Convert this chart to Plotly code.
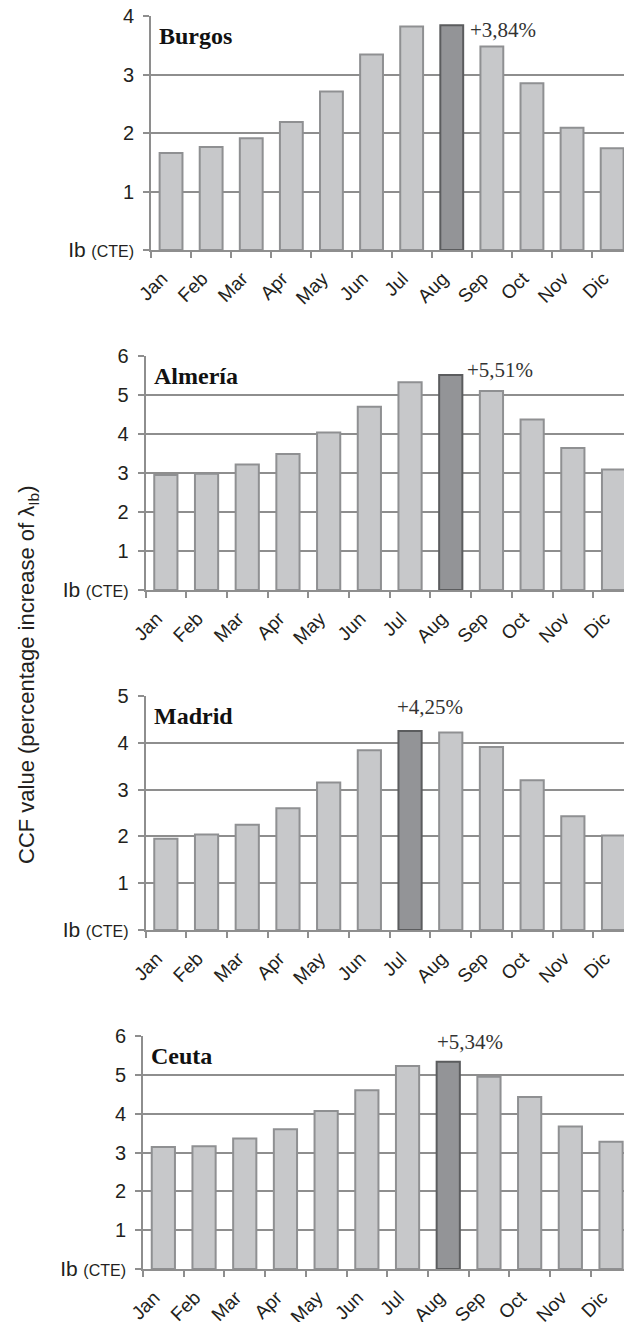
import plotly.graph_objects as go

months = ["Jan", "Feb", "Mar", "Apr", "May", "Jun", "Jul", "Aug", "Sep", "Oct", "Nov", "Dic"]

burgos = [1.66, 1.76, 1.91, 2.19, 2.71, 3.34, 3.82, 3.84, 3.48, 2.85, 2.09, 1.74]
almeria = [2.95, 2.98, 3.22, 3.49, 4.04, 4.70, 5.33, 5.51, 5.10, 4.37, 3.64, 3.09]
madrid = [1.95, 2.04, 2.25, 2.60, 3.15, 3.84, 4.25, 4.22, 3.91, 3.20, 2.43, 2.02]
ceuta = [3.14, 3.16, 3.36, 3.60, 4.07, 4.60, 5.23, 5.34, 4.95, 4.43, 3.67, 3.28]

cities = ["Burgos", "Almería", "Madrid", "Ceuta"]
series = [burgos, almeria, madrid, ceuta]
peak_labels = ["+3,84%", "+5,51%", "+4,25%", "+5,34%"]
y_max = [4, 6, 5, 6]

W, H = 624, 1322
# pixel geometry: (top, bottom, left boundary of first category, category width)
geom = [(16, 250, 151, 40.1), (356, 590, 145.5, 40.7), (696, 930, 145.5, 40.7), (1036, 1269, 143, 40.7)]
# peak label placement: (xanchor, yanchor, xshift, yshift)
label_pos = [("left", "middle", 16, -5), ("left", "middle", 14, 5),
             ("left", "bottom", -15, 10), ("left", "bottom", -13, 6)]

LIGHT_FILL, LIGHT_LINE = "#c7c8ca", "#8f9092"
DARK_FILL, DARK_LINE = "#939497", "#5b5c5e"
GRID = "#8e8e8e"
TXT = "#231f20"

fig = go.Figure()
annotations = []
layout_axes = {}

for i, (city, vals, lab, ym, (top, bot, left, cw), lp) in enumerate(
        zip(cities, series, peak_labels, y_max, geom, label_pos)):
    n = "" if i == 0 else str(i + 1)
    peak = max(range(len(vals)), key=lambda k: vals[k])
    fills = [DARK_FILL if k == peak else LIGHT_FILL for k in range(len(vals))]
    lines = [DARK_LINE if k == peak else LIGHT_LINE for k in range(len(vals))]
    fig.add_trace(go.Bar(
        x=months, y=vals, xaxis="x" + n, yaxis="y" + n,
        marker=dict(color=fills, line=dict(color=lines, width=2)),
        width=0.57, showlegend=False, hoverinfo="x+y",
    ))
    xr = [-0.5, -0.5 + (W - left) / cw]
    layout_axes["xaxis" + n] = dict(
        domain=[left / W, 1], anchor="y" + n, type="category",
        categoryorder="array", categoryarray=months, automargin=False,
        range=xr, tickson="boundaries", ticks="outside", ticklen=6, tickwidth=2,
        tickcolor=GRID, showline=True, linecolor=GRID, linewidth=2,
        showgrid=False, tickangle=-45, zeroline=False,
        ticklabelstandoff=8, ticklabelshift=-9,
        tickfont=dict(family="Liberation Sans, Arial", size=19, color=TXT),
    )
    tv = list(range(0, ym + 1))
    tt = ["<span style='font-size:21px'>Ib</span> <span style='font-size:16px'>(CTE)</span>"] + [str(v) for v in tv[1:]]
    layout_axes["yaxis" + n] = dict(
        domain=[1 - bot / H, 1 - top / H], anchor="x" + n, range=[0, ym], automargin=False,
        tickvals=tv, ticktext=tt, ticks="outside", ticklen=6, tickwidth=2, tickcolor=GRID,
        showline=True, linecolor=GRID, linewidth=2, showgrid=True, gridcolor=GRID, gridwidth=2,
        zeroline=False, ticklabelstandoff=5,
        tickfont=dict(family="Liberation Sans, Arial", size=20, color=TXT),
    )
    # city title
    annotations.append(dict(
        x=(left + 6) / W, y=1 - (top + 20) / H, xref="paper", yref="paper",
        text="<b>" + city + "</b>", showarrow=False, xanchor="left", yanchor="middle",
        font=dict(family="Liberation Serif, Times New Roman", size=24, color="#111111"),
    ))
    # peak label
    xa, ya, xs, ys = lp
    annotations.append(dict(
        x=months[peak], y=vals[peak], xref="x" + n, yref="y" + n, text=lab,
        showarrow=False, xanchor=xa, yanchor=ya, xshift=xs, yshift=ys,
        font=dict(family="Liberation Serif, Times New Roman", size=21, color="#333333"),
    ))

annotations.append(dict(
    x=28 / W, y=1 - 675 / H, xref="paper", yref="paper", textangle=-90,
    text="CCF value (percentage increase of λ<sub>Ib</sub>)", showarrow=False,
    xanchor="center", yanchor="middle",
    font=dict(family="Liberation Sans, Arial", size=22, color=TXT),
))

fig.update_layout(
    width=W, height=H, margin=dict(l=0, r=0, t=0, b=0, autoexpand=False),
    paper_bgcolor="white", plot_bgcolor="white",
    annotations=annotations, **layout_axes,
)

fig.write_html(
    "out.html",
    config={"displayModeBar": False},
    post_script="document.body.style.margin='0';document.body.style.overflow='hidden';",
)
